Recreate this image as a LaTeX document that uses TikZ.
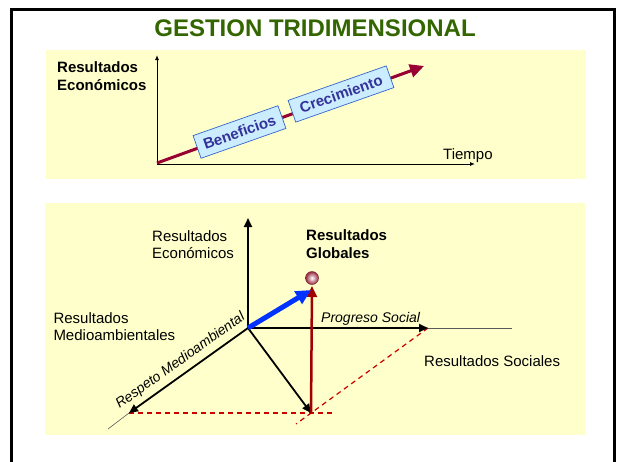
\documentclass[tikz,border=0pt]{standalone}
\usepackage{fontspec}
\setmainfont{Liberation Sans}
\usetikzlibrary{arrows.meta}
\definecolor{ttlgreen}{RGB}{51,102,0}
\definecolor{panel}{RGB}{255,255,204}
\definecolor{crimson}{RGB}{153,0,51}
\definecolor{boxfill}{RGB}{204,236,255}
\definecolor{boxtext}{RGB}{51,51,153}
\definecolor{boxline}{RGB}{51,102,204}
\definecolor{globblue}{RGB}{0,51,255}
\definecolor{globred}{RGB}{160,0,0}
\definecolor{dashred}{RGB}{204,0,0}
\definecolor{ballrim}{RGB}{150,40,60}
\tikzset{
  fs/.style={font=\fontsize{#1}{#1}\selectfont},
  lbl/.style={inner sep=0pt, align=left, anchor=north west, font=\fontsize{15}{17.5}\selectfont},
  blbl/.style={lbl, font=\bfseries\fontsize{15}{18}\selectfont},
  tagbox/.style={draw=boxline, line width=0.7pt, fill=boxfill, text=boxtext, inner sep=0pt,
    font=\bfseries\fontsize{15}{15}\selectfont, rotate=19.4},
  smallaxis/.style={line width=1pt, -{Latex[length=5pt,width=4pt]}},
  bigaxis/.style={line width=1.8pt, -{Triangle[length=9pt,width=8pt]}},
  thinline/.style={line width=0.6pt, gray!70!black},
  dashline/.style={line width=1.2pt, dashred, dash pattern=on 5pt off 4pt},
}
\begin{document}
\begin{tikzpicture}[x=1pt, y=-1pt]
\useasboundingbox (0,0) rectangle (620,461);
\fill[white] (0,0) rectangle (620,461);
\draw[line width=3pt] (11.5,9.5) rectangle (614,480);
% title
\node[anchor=base, text=ttlgreen, font=\bfseries\fontsize{24}{24}\selectfont] (title) at (315,36) {GESTION TRIDIMENSIONAL};
% top panel
\fill[panel] (46,50) rectangle (586,179);
\coordinate (o1) at (157,164);
\coordinate (ytop) at (157,55);
\coordinate (xend) at (475,164);
\coordinate (rs) at (157,163);
\coordinate (re) at (424,66);
\draw[smallaxis] (o1) -- (ytop);
\draw[smallaxis] (o1) -- (xend);
\draw[line width=3pt, crimson, -{Triangle[length=14pt,width=13pt]}] (rs) -- (re);
\node[tagbox, minimum width=90pt, minimum height=24pt] (benef) at (239.5,132) {Beneficios};
\node[tagbox, minimum width=104pt, minimum height=23pt] (crec) at (341,94) {Crecimiento};
\node[blbl] (re1) at (57,61.5) {Resultados\\Económicos};
\node[anchor=base west, inner sep=0pt, fs=15] (tiempo) at (443,159.3) {Tiempo};
% bottom panel
\fill[panel] (45,203) rectangle (585,435);
\coordinate (o) at (248,328);
\coordinate (etip) at (248,218);
\coordinate (stip) at (428,328);
\coordinate (send) at (512,328);
\coordinate (mtip) at (129,413);
\coordinate (mend) at (108,429);
\coordinate (p) at (311,413);
\coordinate (dend) at (333,413);
\coordinate (dgend) at (296,424);
\coordinate (gtip) at (312,286);
\coordinate (btip) at (311,290);
\draw[thinline] (stip) -- (send);
\draw[thinline] (mtip) -- (mend);
\draw[dashline] (mtip) -- (dend);
\draw[dashline] (stip) -- (dgend);
\draw[bigaxis] (o) -- (etip);
\draw[bigaxis] (o) -- (stip);
\draw[bigaxis] (o) -- (mtip);
\draw[bigaxis] (o) -- (p);
\draw[line width=2.5pt, globred, -{Triangle[length=11pt,width=10pt]}] (p) -- (gtip);
\draw[line width=5pt, globblue, -{Triangle[length=15pt,width=14pt]}] (o) -- (btip);
\shade[inner color=white, outer color=ballrim] (312,278) circle (6.5pt);
\node[draw=ballrim!80!black, line width=0.5pt, circle, minimum size=13pt, inner sep=0pt] (glob) at (312,278) {};
\node[lbl] (recon) at (152,230) {Resultados\\Económicos};
\node[blbl] (rglob) at (306,229.3) {Resultados\\Globales};
\node[lbl] (rma) at (53.3,312) {Resultados\\Medioambientales};
\node[lbl] (rsoc) at (424,355) {Resultados Sociales};
\node[anchor=base west, inner sep=0pt, font=\itshape\fontsize{14}{14}\selectfont] (prog) at (321,322.7) {Progreso Social};
\node[inner sep=0pt, rotate=35.5, font=\itshape\fontsize{14}{14}\selectfont] (resp) at (180.5,361) {Respeto Medioambiental};
\end{tikzpicture}
\end{document}
